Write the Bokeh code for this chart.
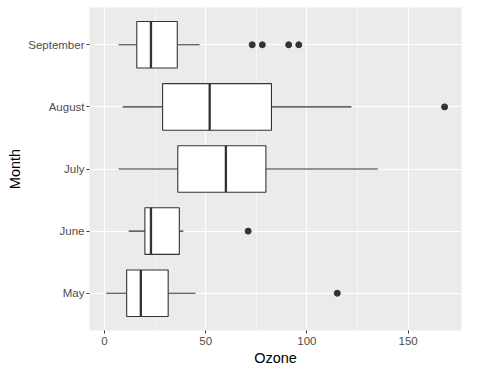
from bokeh.plotting import figure
from bokeh.models import Range1d, FixedTicker, ColumnDataSource
from bokeh.embed import file_html
from bokeh.resources import INLINE

# Data (airquality Ozone by month)
months = ["May", "June", "July", "August", "September"]
lower_whisker = [1, 12, 7, 9, 7]
q1 = [11, 20, 36.25, 28.75, 16]
median = [18, 23, 60, 52, 23]
q3 = [31.5, 37, 79.75, 82.5, 36]
upper_whisker = [45, 39, 135, 122, 47]
outlier_month = ["May", "June", "August", "September", "September", "September", "September"]
outlier_value = [115, 71, 168, 73, 78, 91, 96]
x_ticks = [0, 50, 100, 150]
x_minor = [25, 75, 125]

pos = {m: i + 1 for i, m in enumerate(months)}
ys = [pos[m] for m in months]

xmin, xmax = min(lower_whisker + outlier_value), max(upper_whisker + outlier_value)
pad = (xmax - xmin) * 0.05

p = figure(width=464, height=368, output_backend="svg", toolbar_location=None,
           x_range=Range1d(xmin - pad, xmax + pad), y_range=Range1d(0.4, len(months) + 0.6),
           min_border_left=89, min_border_right=3, min_border_top=7, min_border_bottom=30)

p.background_fill_color = "#EBEBEB"
p.border_fill_color = "white"
p.outline_line_color = None

# grids
p.xaxis.ticker = FixedTicker(ticks=x_ticks, minor_ticks=x_minor)
p.yaxis.ticker = FixedTicker(ticks=ys)
p.yaxis.major_label_overrides = {pos[m]: m for m in months}
p.xgrid.grid_line_color = "white"
p.xgrid.grid_line_width = 1.1
p.xgrid.minor_grid_line_color = "white"
p.xgrid.minor_grid_line_width = 0.55
p.ygrid.grid_line_color = "white"
p.ygrid.grid_line_width = 1.1

for ax in (p.xaxis[0], p.yaxis[0]):
    ax.axis_line_color = None
    ax.major_tick_line_color = "#333333"
    ax.major_tick_line_width = 1
    ax.major_tick_out = 3
    ax.major_tick_in = 0
    ax.minor_tick_line_color = None
    ax.major_label_text_font = "Liberation Sans"
    ax.major_label_text_font_size = "11.5px"
    ax.major_label_text_color = "#4D4D4D"
    ax.major_label_standoff = 2
    ax.axis_label_text_font = "Liberation Sans"
    ax.axis_label_text_font_size = "14.5px"
    ax.axis_label_text_font_style = "normal"
    ax.axis_label_text_color = "black"
    ax.axis_label_standoff = 2

p.xaxis.axis_label = "Ozone"
p.yaxis.axis_label = "Month"

src = ColumnDataSource(dict(y=ys, lw=lower_whisker, q1=q1, med=median, q3=q3, uw=upper_whisker,
                            y0=[y - 0.375 for y in ys], y1=[y + 0.375 for y in ys]))

# whiskers
p.segment(x0="lw", y0="y", x1="q1", y1="y", source=src, line_color="#333333", line_width=1.1)
p.segment(x0="q3", y0="y", x1="uw", y1="y", source=src, line_color="#333333", line_width=1.1)
# boxes
p.hbar(y="y", left="q1", right="q3", height=0.75, source=src, fill_color="white",
       line_color="#333333", line_width=1.1)
# medians
p.segment(x0="med", y0="y0", x1="med", y1="y1", source=src, line_color="#333333", line_width=2.3)
# outliers
p.scatter(x=outlier_value, y=[pos[m] for m in outlier_month], size=6,
          fill_color="#333333", line_color="#333333")

open("out.html", "w").write(file_html(p, INLINE))
